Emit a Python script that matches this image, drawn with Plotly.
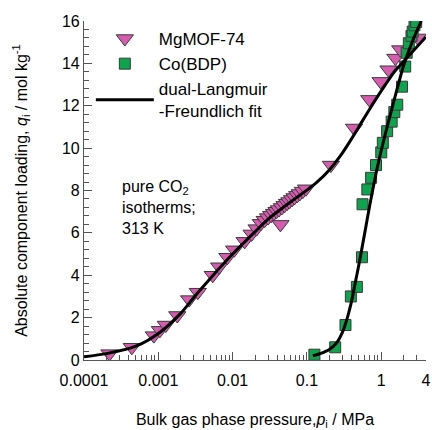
import plotly.graph_objects as go
import numpy as np

# MgMOF-74 data (pressure MPa, loading mol/kg)
mg_p = [2.2e-4, 4.4e-4, 8.7e-4, 1.05e-3, 1.26e-3, 1.8e-3, 2.6e-3, 3.4e-3, 5.4e-3, 6.6e-3,
        8.5e-3, 1.05e-2, 1.45e-2, 1.8e-2, 2.1e-2, 2.4e-2, 2.7e-2, 3.0e-2, 3.3e-2, 3.6e-2,
        3.9e-2, 4.2e-2, 4.4e-2, 4.6e-2, 5.0e-2, 5.4e-2, 5.8e-2, 6.3e-2, 6.8e-2, 7.4e-2,
        8.0e-2, 8.8e-2, 9.7e-2, 0.21, 0.43, 0.69, 0.98, 1.25, 1.55, 1.8, 3.1]
mg_q = [0.30, 0.60, 1.15, 1.40, 1.65, 2.10, 2.85, 3.20, 4.00, 4.40,
        4.85, 5.20, 5.60, 5.95, 6.20, 6.45, 6.60, 6.72, 6.83, 6.93,
        7.02, 7.10, 6.40, 7.20, 7.30, 7.40, 7.48, 7.58, 7.67, 7.77,
        7.86, 7.97, 8.08, 9.2, 10.95, 12.3, 13.15, 13.7, 14.25, 14.65, 15.2]

# Co(BDP) data
co_p = [0.126, 0.24, 0.33, 0.39, 0.47, 0.55, 0.56, 0.65, 0.73, 0.85, 1.0, 1.05, 1.2,
        1.38, 1.5, 1.64, 1.9, 2.1, 2.2, 2.35, 2.55, 2.65, 2.8, 2.95]
co_q = [0.25, 0.6, 1.65, 3.0, 3.45, 4.85, 7.35, 8.05, 8.6, 9.2, 9.8, 10.25, 10.8,
        11.25, 11.7, 12.05, 12.9, 13.85, 14.5, 14.95, 15.3, 15.5, 15.8, 15.95]

# Fit curves
mg_fit_p = [1e-4, 2e-4, 5e-4, 1e-3, 2e-3, 3e-3, 5e-3, 1e-2, 2e-2, 3e-2, 5e-2, 0.07, 0.1,
            0.14, 0.2, 0.28, 0.4, 0.55, 0.7, 1.0, 1.5, 2.4, 4.0]
mg_fit_q = [0.15, 0.3, 0.65, 1.25, 2.2, 2.95, 3.85, 5.0, 6.05, 6.65, 7.25, 7.63, 8.02,
            8.43, 8.97, 9.62, 10.45, 11.25, 11.85, 12.7, 13.6, 14.4, 15.25]
co_fit_p = [0.12, 0.15, 0.2, 0.25, 0.3, 0.35, 0.4, 0.45, 0.5, 0.6, 0.7, 0.85, 1.0, 1.2,
            1.5, 2.0, 2.6, 3.45]
co_fit_q = [0.2, 0.3, 0.5, 0.8, 1.3, 2.0, 2.8, 3.7, 4.5, 6.0, 7.3, 8.8, 9.9, 11.0,
            12.3, 13.9, 15.0, 16.0]

x_tickvals = [1e-4, 1e-3, 1e-2, 1e-1, 1, 4]
x_ticktext = ["0.0001", "0.001", "0.01", "0.1", "1", "4"]

FONT = "Liberation Sans, Arial, sans-serif"
PINK = "#D65CB0"
GREEN = "#0EA44E"
EDGE = "#3a3a3a"
AX = "#555555"

fig = go.Figure()

fig.add_trace(go.Scatter(x=mg_p, y=mg_q, mode="markers", name="MgMOF-74",
                         marker=dict(symbol="triangle-down", size=15, color=PINK,
                                     line=dict(color=EDGE, width=1))))
fig.add_trace(go.Scatter(x=co_p, y=co_q, mode="markers", name="Co(BDP)",
                         marker=dict(symbol="square", size=11, color=GREEN,
                                     line=dict(color=EDGE, width=1))))
fig.add_trace(go.Scatter(x=mg_fit_p, y=mg_fit_q, mode="lines",
                         line=dict(color="black", width=3, shape="spline", smoothing=0.7),
                         showlegend=False))
fig.add_trace(go.Scatter(x=co_fit_p, y=co_fit_q, mode="lines",
                         line=dict(color="black", width=3, shape="spline", smoothing=0.7),
                         showlegend=False))
fig.add_trace(go.Scatter(x=[None], y=[None], mode="lines", name="dual-Langmuir<br>-Freundlich fit",
                         line=dict(color="black", width=3)))

minor_x = []
for d in range(-4, 1):
    for m in range(2, 10):
        v = m * 10 ** d
        if v < 4:
            minor_x.append(v)

fig.update_xaxes(type="log", range=[np.log10(1e-4), np.log10(4)],
                 tickvals=x_tickvals, ticktext=x_ticktext,
                 ticks="inside", ticklen=8, tickwidth=1, tickcolor=AX,
                 showline=True, linecolor=AX, linewidth=1.2,
                 showgrid=False, zeroline=False, automargin=False,
                 ticklabelstandoff=6,
                 minor=dict(tickvals=minor_x, ticks="inside", ticklen=5, tickcolor=AX, showgrid=False),
                 tickfont=dict(family=FONT, size=16, color="black"),
                 title=dict(text="Bulk gas phase pressure,<i>p</i><sub>i</sub> / MPa",
                            font=dict(family=FONT, size=16, color="black"), standoff=25))
fig.update_yaxes(range=[0, 16], dtick=2, tick0=0,
                 ticks="inside", ticklen=8, tickwidth=1, tickcolor=AX,
                 showline=True, linecolor=AX, linewidth=1.2,
                 showgrid=False, zeroline=False, automargin=False,
                 minor=dict(dtick=0.4, ticks="inside", ticklen=5, tickcolor=AX, showgrid=False),
                 tickfont=dict(family=FONT, size=16, color="black"),
                 title=dict(text="Absolute component loading, <i>q</i><sub>i</sub> / mol kg<sup>-1</sup>",
                            font=dict(family=FONT, size=16, color="black"), standoff=30))

fig.add_annotation(x=0.105, y=0.543, xref="paper", yref="paper", xanchor="left", yanchor="top",
                   text="pure CO<sub>2</sub><br>isotherms;<br>313 K", showarrow=False, align="left",
                   font=dict(family=FONT, size=16, color="black"))

fig.update_layout(width=432, height=430, plot_bgcolor="white", paper_bgcolor="white",
                  margin=dict(l=84, r=6, t=21, b=70),
                  legend=dict(x=0.02, y=1.0, xanchor="left", yanchor="top",
                              bgcolor="rgba(0,0,0,0)", font=dict(family=FONT, size=17, color="black"),
                              tracegroupgap=0, itemwidth=58))

fig.write_html("out.html", config={"displayModeBar": False},
               post_script="document.body.style.margin='0';document.body.style.overflow='hidden';")
